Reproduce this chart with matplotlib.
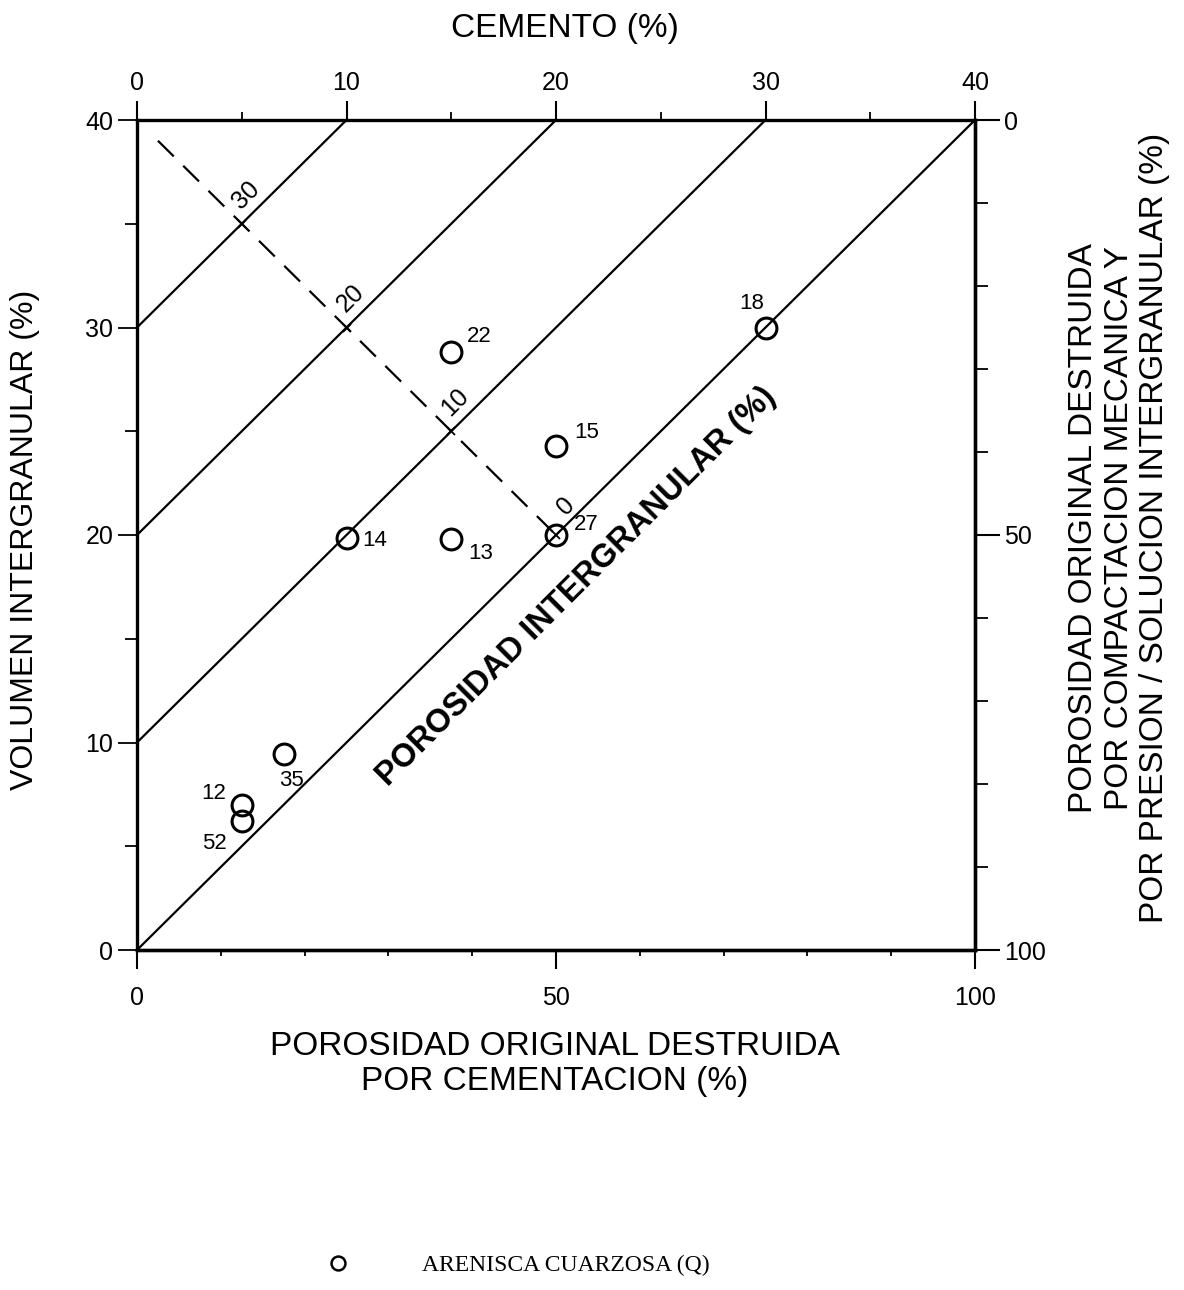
import matplotlib
matplotlib.use("Agg")
import matplotlib.pyplot as plt
from matplotlib.lines import Line2D
from matplotlib.ticker import MultipleLocator, FixedLocator

# ---------------- data ----------------
sample_ids = ['18', '22', '15', '14', '13', '27', '35', '12', '52']
cemento = [30.0, 15.0, 20.0, 10.0, 15.0, 20.0, 7.0, 5.0, 5.0]
volumen_ig = [30.0, 28.8, 24.3, 19.85, 19.8, 20.0, 9.45, 7.0, 6.2]
label_offsets_px = [(-14, 24), (28, 16), (31, 13), (28, -2), (29, -14),
                    (30, 10), (8, -27), (-28, 11), (-27, -22)]

porosity_levels = [0, 10, 20, 30]          # intergranular porosity contours
porosity_labels = ['0', '10', '20', '30']
top_ticks = [0, 10, 20, 30, 40]
left_ticks = [0, 10, 20, 30, 40]
bottom_ticks = [0, 50, 100]
right_ticks = [0, 50, 100]

plt.rcParams['font.family'] = ['Liberation Sans', 'DejaVu Sans']

fig = plt.figure(figsize=(11.84, 12.90), dpi=100)
ax = fig.add_axes([137/1184, 1 - 950/1290, (975-137)/1184, (950-120)/1290])
ax.set_xlim(0, 40)
ax.set_ylim(0, 40)

for sp in ax.spines.values():
    sp.set_linewidth(2.4)

# contour lines of intergranular porosity: IGV = C + p
for p in porosity_levels:
    ax.plot([0, 40 - p], [p, 40], color='black', lw=1.6, solid_capstyle='butt')

# dashed perpendicular scale line
ax.plot([1, 20], [39, 20], color='black', lw=1.6, dashes=(10, 6))
for p, lab in zip(porosity_levels, porosity_labels):
    c0 = (40 - p) / 2
    i0 = (40 + p) / 2
    ax.plot([c0], [i0], marker='x', ms=6, mew=1.3, color='black')
    dx = 10 if p == 0 else 4
    ax.annotate(lab, (c0, i0), xytext=(dx, 29), textcoords='offset pixels',
                rotation=45, ha='center', va='center', fontsize=18)

# samples
ax.plot(cemento, volumen_ig, ls='none', marker='o', ms=15, mfc='none',
        mec='black', mew=2.2, clip_on=False)
for sid, c, v, off in zip(sample_ids, cemento, volumen_ig, label_offsets_px):
    ax.annotate(sid, (c, v), xytext=off, textcoords='offset pixels',
                ha='center', va='center', fontsize=16)

# big rotated label
ax.text(21.0, 17.5, 'POROSIDAD INTERGRANULAR (%)', rotation=45,
        ha='center', va='center', fontsize=23.5, fontweight='bold')

# top axis: cemento
ax.xaxis.set_ticks_position('top')
ax.xaxis.set_major_locator(FixedLocator(top_ticks))
ax.xaxis.set_minor_locator(MultipleLocator(5))
ax.tick_params(axis='x', which='major', direction='out', length=14, width=1.5,
               labelsize=18, pad=4)
ax.tick_params(axis='x', which='minor', direction='out', length=6, width=1.3)

# left axis: volumen intergranular
ax.yaxis.set_major_locator(FixedLocator(left_ticks))
ax.yaxis.set_minor_locator(MultipleLocator(5))
ax.tick_params(axis='y', which='major', direction='out', length=14, width=1.3,
               labelsize=18, pad=3)
ax.tick_params(axis='y', which='minor', direction='out', length=9, width=1.3)

# bottom: porosidad destruida por cementacion
secx = ax.secondary_xaxis('bottom', functions=(lambda c: c * 2.5, lambda q: q / 2.5))
secx.xaxis.set_major_locator(FixedLocator(bottom_ticks))
secx.xaxis.set_minor_locator(MultipleLocator(10))
secx.tick_params(which='major', direction='out', length=14, width=1.5,
                 labelsize=18, pad=12)
secx.tick_params(which='minor', direction='out', length=4, width=1.3)
secx.spines['bottom'].set_linewidth(2.4)

# right: porosidad destruida por compactacion
secy = ax.secondary_yaxis('right', functions=(lambda v: (40 - v) * 2.5,
                                              lambda q: 40 - q / 2.5))
secy.yaxis.set_major_locator(FixedLocator(right_ticks))
secy.yaxis.set_minor_locator(MultipleLocator(10))
secy.tick_params(which='major', direction='out', length=18, width=1.5,
                 labelsize=18, pad=3)
secy.tick_params(which='minor', direction='out', length=9, width=1.3)
secy.spines['right'].set_linewidth(2.4)

# axis titles
fig.text(565/1184, 1 - 28/1290, 'CEMENTO (%)', ha='center', va='center', fontsize=24)
fig.text(25/1184, 1 - 540/1290, 'VOLUMEN INTERGRANULAR (%)', rotation=90,
         ha='center', va='center', fontsize=23)
fig.text(555/1184, 1 - 1064/1290,
         'POROSIDAD ORIGINAL DESTRUIDA\nPOR CEMENTACION (%)',
         ha='center', va='center', fontsize=24, linespacing=1.14)
fig.text(1119/1184, 1 - 528/1290,
         'POROSIDAD ORIGINAL DESTRUIDA\nPOR COMPACTACION MECANICA Y\n'
         'POR PRESION / SOLUCION INTERGRANULAR (%)',
         rotation=90, ha='center', va='center', fontsize=24, linespacing=1.17,
         multialignment='center')

# legend
handle = Line2D([], [], ls='none', marker='o', ms=10, mfc='none', mec='black', mew=1.8)
fig.legend([handle], ['ARENISCA CUARZOSA (Q)'], loc='center',
           bbox_to_anchor=(512/1184, 1 - 1265/1290), frameon=False,
           handletextpad=2.55,
           prop={'family': 'Liberation Serif', 'size': 17})

fig.savefig('out.png', dpi=100, facecolor='white')
